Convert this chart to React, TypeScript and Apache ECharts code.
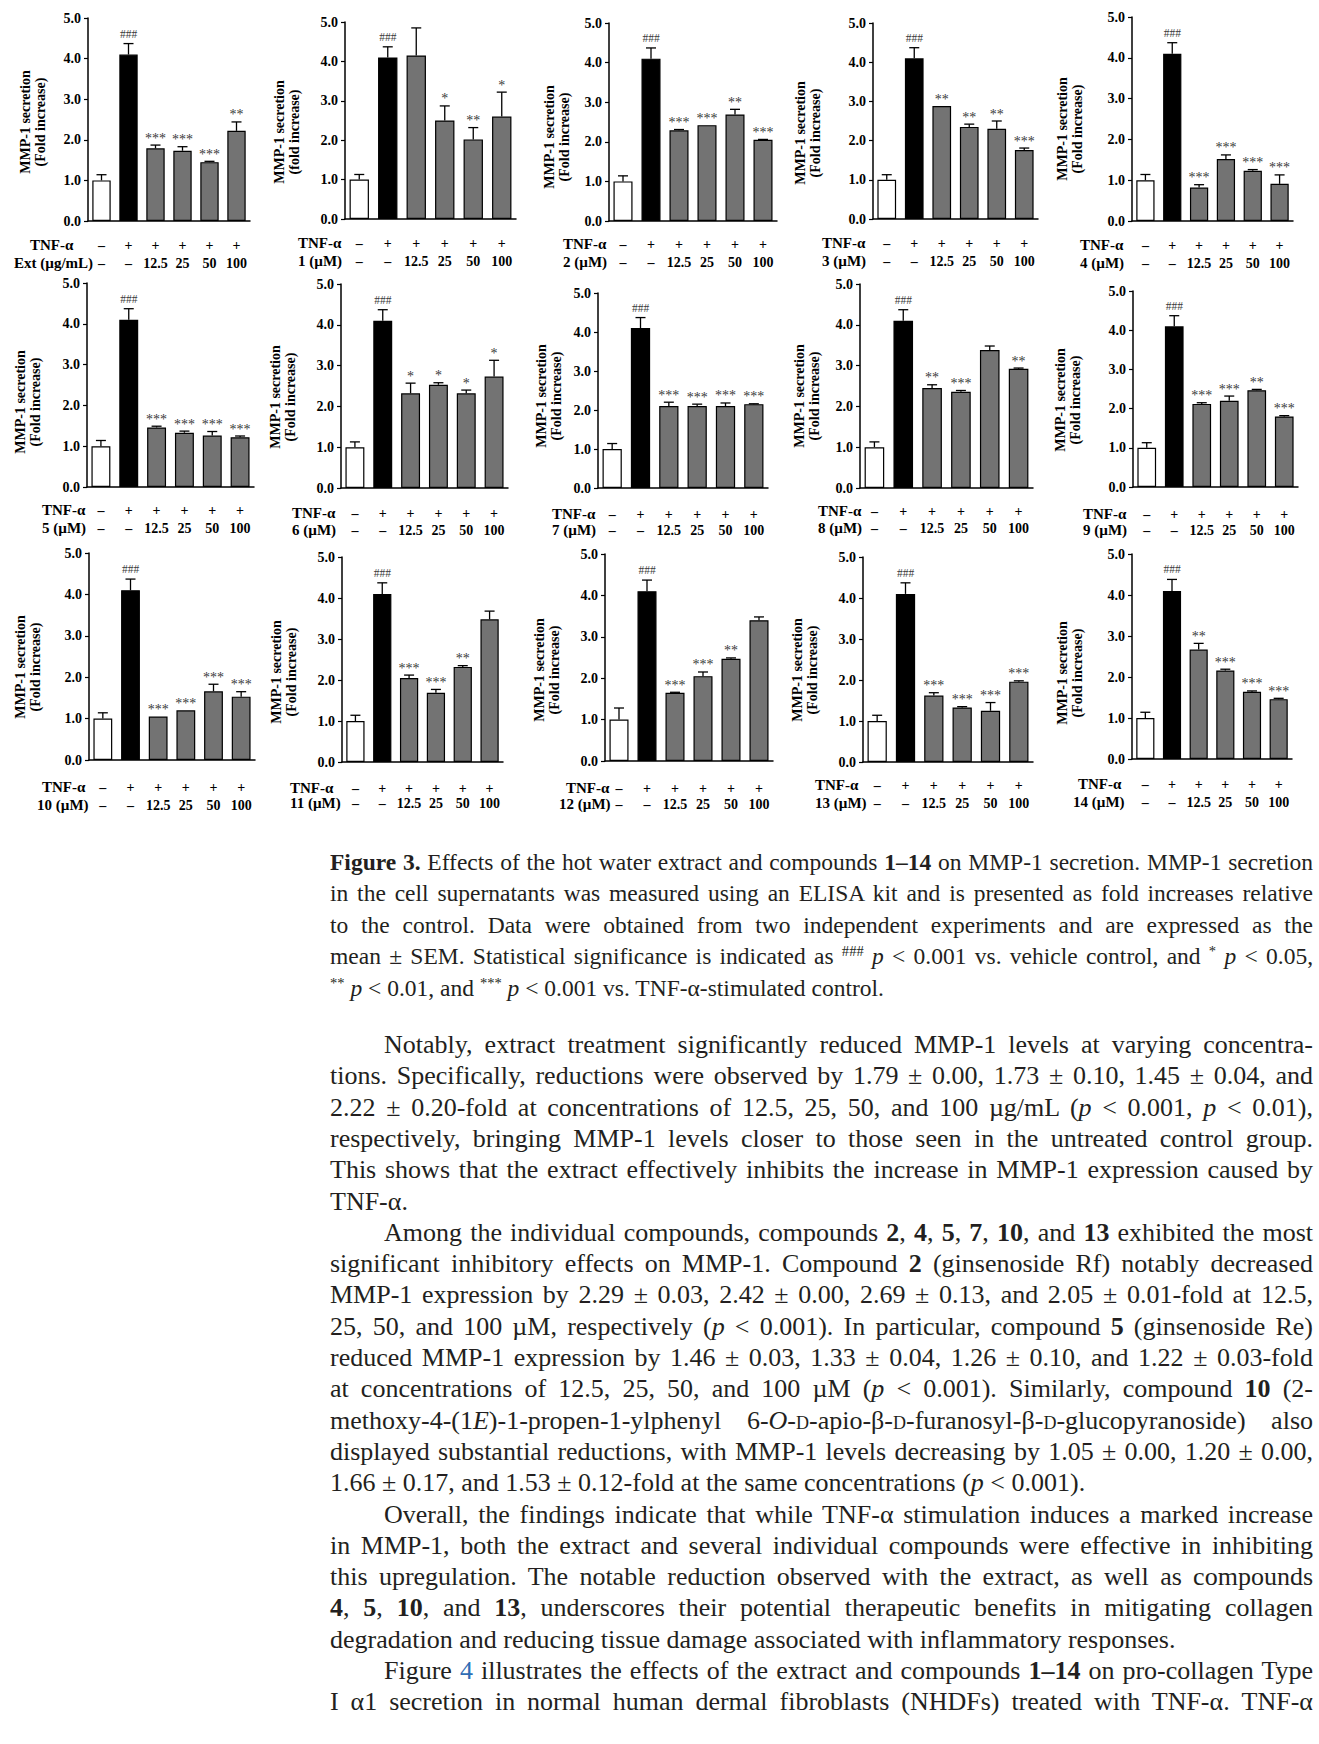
import React, { useEffect, useRef } from 'react';
import * as echarts from 'echarts';

// ---------- DATA ----------
const tnfRow = ['–', '+', '+', '+', '+', '+'];
const concRow = ['–', '–', '12.5', '25', '50', '100'];
const yTickValues = [0, 1, 2, 3, 4, 5];

const panelNames = [
  'Ext (µg/mL)', '1 (µM)', '2 (µM)', '3 (µM)', '4 (µM)',
  '5 (µM)', '6 (µM)', '7 (µM)', '8 (µM)', '9 (µM)',
  '10 (µM)', '11 (µM)', '12 (µM)', '13 (µM)', '14 (µM)',
];
const yTitleLine1 = 'MMP-1 secretion';
const yTitleLine2 = [
  '(Fold increase)', '(fold increase)', '(Fold increase)', '(Fold increase)', '(Fold increase)',
  '(Fold increase)', '(Fold increase)', '(Fold increase)', '(Fold increase)', '(Fold increase)',
  '(Fold increase)', '(Fold increase)', '(Fold increase)', '(Fold increase)', '(Fold increase)',
];

const meansExt = [1.0, 4.1, 1.79, 1.73, 1.45, 2.22];
const means1 = [1.0, 4.1, 4.15, 2.5, 2.02, 2.6];
const means2 = [1.0, 4.1, 2.29, 2.42, 2.69, 2.05];
const means3 = [1.0, 4.1, 2.88, 2.35, 2.3, 1.76];
const means4 = [1.0, 4.1, 0.82, 1.52, 1.23, 0.91];
const means5 = [1.0, 4.1, 1.46, 1.33, 1.26, 1.22];
const means6 = [1.0, 4.1, 2.32, 2.53, 2.32, 2.73];
const means7 = [1.0, 4.1, 2.1, 2.1, 2.1, 2.15];
const means8 = [1.0, 4.1, 2.45, 2.36, 3.38, 2.92];
const means9 = [1.0, 4.1, 2.12, 2.2, 2.47, 1.8];
const means10 = [1.0, 4.1, 1.05, 1.2, 1.66, 1.53];
const means11 = [1.0, 4.1, 2.05, 1.69, 2.32, 3.48];
const means12 = [1.0, 4.1, 1.65, 2.05, 2.47, 3.4];
const means13 = [1.0, 4.1, 1.62, 1.33, 1.25, 1.96];
const means14 = [1.0, 4.1, 2.67, 2.16, 1.64, 1.46];

const semsExt = [0.14, 0.27, 0.08, 0.1, 0.02, 0.22];
const sems1 = [0.13, 0.27, 0.7, 0.37, 0.3, 0.62];
const sems2 = [0.14, 0.27, 0.02, 0.0, 0.13, 0.01];
const sems3 = [0.13, 0.27, 0.0, 0.07, 0.2, 0.05];
const sems4 = [0.14, 0.27, 0.07, 0.1, 0.03, 0.22];
const sems5 = [0.14, 0.27, 0.03, 0.04, 0.1, 0.03];
const sems6 = [0.13, 0.27, 0.25, 0.05, 0.08, 0.4];
const sems7 = [0.14, 0.27, 0.1, 0.05, 0.08, 0.01];
const sems8 = [0.13, 0.27, 0.08, 0.03, 0.1, 0.02];
const sems9 = [0.13, 0.27, 0.03, 0.12, 0.02, 0.02];
const sems10 = [0.14, 0.27, 0.0, 0.0, 0.17, 0.12];
const sems11 = [0.14, 0.27, 0.07, 0.08, 0.03, 0.2];
const sems12 = [0.28, 0.27, 0.01, 0.1, 0.02, 0.08];
const sems13 = [0.14, 0.27, 0.07, 0.02, 0.2, 0.02];
const sems14 = [0.14, 0.28, 0.15, 0.03, 0.02, 0.02];

const marksExt = ['', '###', '***', '***', '***', '**'];
const marks1 = ['', '###', '', '*', '**', '*'];
const marks2 = ['', '###', '***', '***', '**', '***'];
const marks3 = ['', '###', '**', '**', '**', '***'];
const marks4 = ['', '###', '***', '***', '***', '***'];
const marks5 = ['', '###', '***', '***', '***', '***'];
const marks6 = ['', '###', '*', '*', '*', '*'];
const marks7 = ['', '###', '***', '***', '***', '***'];
const marks8 = ['', '###', '**', '***', '', '**'];
const marks9 = ['', '###', '***', '***', '**', '***'];
const marks10 = ['', '###', '***', '***', '***', '***'];
const marks11 = ['', '###', '***', '***', '**', ''];
const marks12 = ['', '###', '***', '***', '**', ''];
const marks13 = ['', '###', '***', '***', '***', '***'];
const marks14 = ['', '###', '**', '***', '***', '***'];

const allMeans = [meansExt, means1, means2, means3, means4, means5, means6, means7, means8, means9, means10, means11, means12, means13, means14];
const allSems = [semsExt, sems1, sems2, sems3, sems4, sems5, sems6, sems7, sems8, sems9, sems10, sems11, sems12, sems13, sems14];
const allMarks = [marksExt, marks1, marks2, marks3, marks4, marks5, marks6, marks7, marks8, marks9, marks10, marks11, marks12, marks13, marks14];

// ---------- LAYOUT ----------
// [axisX, top(5.0), right, bottom(0.0), tnfRowDy, concRowDy]
const gridLayout = [
  [88, 18, 250, 221, 24, 42],
  [345, 22, 516, 219, 24, 42],
  [609, 23, 777, 221, 23, 41],
  [873, 23, 1038, 219, 24, 42],
  [1132, 17, 1293, 221, 24, 42],
  [87, 283, 254, 487, 23, 41],
  [341, 284, 508, 488, 25, 42],
  [598, 293, 768, 488, 26, 42],
  [860, 284, 1033, 488, 23, 40],
  [1133, 291, 1298, 487, 27, 43],
  [89, 553, 255, 760, 27, 45],
  [342, 557, 503, 762, 26, 41],
  [605, 554, 773, 761, 27, 43],
  [863, 557, 1033, 762, 23, 41],
  [1132, 554, 1292, 759, 25, 43],
];
// [tnfLabelX, concLabelX]
const rowLabelX = [
  [30, 14], [298, 298], [563, 563], [822, 822], [1080, 1080],
  [42, 42], [292, 292], [552, 552], [818, 818], [1083, 1083],
  [42, 37], [290, 290], [566, 559], [815, 815], [1078, 1073],
];
// [cx, cy] of y-axis title
const yTitlePos = [
  [33, 122], [287, 132], [557, 137], [808, 133], [1070, 129],
  [28, 402], [283, 397], [549, 396], [807, 396], [1068, 400],
  [28, 667], [284, 672], [547, 670], [805, 670], [1070, 673],
];

const FONT = '"Liberation Serif", "Times New Roman", serif';
const barFill = ['#ffffff', '#000000', '#737373', '#737373', '#737373', '#737373'];

function buildOption() {
  const grid: any[] = [];
  const xAxis: any[] = [];
  const yAxis: any[] = [];
  const series: any[] = [];
  const graphic: any[] = [];

  for (let p = 0; p < 15; p++) {
    const [l, t, r, b, d1, d2] = gridLayout[p];
    const lh = d2 - d1;
    grid.push({ left: l, top: t, width: r - l, height: b - t, containLabel: false });
    xAxis.push({
      gridIndex: p,
      type: 'category',
      data: concRow.map((_, i) => String(i)),
      axisLine: { lineStyle: { color: '#000', width: 1.5 } },
      axisTick: { show: false },
      axisLabel: {
        interval: 0,
        margin: d1 - lh / 2,
        lineHeight: lh,
        fontSize: 14,
        fontWeight: 'bold',
        fontFamily: FONT,
        color: '#000',
        formatter: (_v: string, i: number) => tnfRow[i] + '\n' + concRow[i],
      },
    });
    yAxis.push({
      gridIndex: p,
      type: 'value',
      min: yTickValues[0],
      max: yTickValues[yTickValues.length - 1],
      interval: 1,
      axisLine: { show: true, lineStyle: { color: '#000', width: 1.5 } },
      axisTick: { show: true, length: 4, lineStyle: { color: '#000', width: 1.2 } },
      splitLine: { show: false },
      axisLabel: {
        margin: 7,
        fontSize: 14,
        fontWeight: 'bold',
        fontFamily: FONT,
        color: '#000',
        formatter: (v: number) => v.toFixed(1),
      },
    });
    series.push({
      type: 'bar',
      xAxisIndex: p,
      yAxisIndex: p,
      barWidth: '68%',
      data: allMeans[p].map((v, i) => ({
        value: v,
        itemStyle: { color: barFill[i], borderColor: '#000', borderWidth: 1.2 },
      })),
      z: 2,
    });
    const marks = allMarks[p];
    series.push({
      type: 'custom',
      xAxisIndex: p,
      yAxisIndex: p,
      clip: false,
      z: 3,
      encode: { x: 0, y: 1 },
      data: allMeans[p].map((v, i) => [i, v, allSems[p][i]]),
      renderItem: (params: any, api: any) => {
        const i = api.value(0);
        const v = api.value(1);
        const e = api.value(2);
        const base = api.coord([i, v]);
        const top = api.coord([i, v + e]);
        const children: any[] = [];
        if (e > 0.005) {
          children.push({
            type: 'line',
            shape: { x1: base[0], y1: base[1], x2: top[0], y2: top[1] },
            style: { stroke: '#000', lineWidth: 1.3 },
          });
          children.push({
            type: 'line',
            shape: { x1: top[0] - 5, y1: top[1], x2: top[0] + 5, y2: top[1] },
            style: { stroke: '#000', lineWidth: 1.3 },
          });
        }
        const m = marks[params.dataIndex];
        if (m) {
          children.push({
            type: 'text',
            x: top[0],
            y: top[1] - (m[0] === '#' ? 4 : 0),
            style: {
              text: m,
              align: 'center',
              verticalAlign: 'bottom',
              fontSize: m[0] === '#' ? 11.5 : 14,
              fontFamily: FONT,
              fill: '#3a3a3a',
            },
          });
        }
        return { type: 'group', children };
      },
    });

    // row labels
    graphic.push({
      type: 'text',
      x: rowLabelX[p][0],
      y: b + d1,
      style: { text: 'TNF-α', fontSize: 15, fontWeight: 'bold', fontFamily: FONT, fill: '#000', align: 'left', verticalAlign: 'middle' },
    });
    graphic.push({
      type: 'text',
      x: rowLabelX[p][1],
      y: b + d2,
      style: { text: panelNames[p], fontSize: 15, fontWeight: 'bold', fontFamily: FONT, fill: '#000', align: 'left', verticalAlign: 'middle' },
    });
    // y title
    graphic.push({
      type: 'text',
      x: yTitlePos[p][0],
      y: yTitlePos[p][1],
      rotation: Math.PI / 2,
      style: {
        text: yTitleLine1 + '\n' + yTitleLine2[p],
        fontSize: 14,
        fontWeight: 'bold',
        fontFamily: FONT,
        fill: '#000',
        align: 'center',
        verticalAlign: 'middle',
        lineHeight: 15,
      },
    });
  }

  return { animation: false, backgroundColor: '#fff', grid, xAxis, yAxis, series, graphic };
}

// ---------- TEXT ----------
const TEXT_LEFT = 330;
const TEXT_RIGHT = 1313;
const INDENT = 54;

type LineDef = { c: React.ReactNode; last?: boolean; indent?: boolean };

const sm = (s: string) => <span style={{ fontVariant: 'small-caps' }}>{s}</span>;
const P = () => <i>p</i>;
const supS = { fontSize: '0.62em', verticalAlign: '0.55em', lineHeight: 0 } as React.CSSProperties;

const captionLines: LineDef[] = [
  { c: <><b>Figure 3.</b> Effects of the hot water extract and compounds <b>1–14</b> on MMP-1 secretion. MMP-1 secretion</> },
  { c: <>in the cell supernatants was measured using an ELISA kit and is presented as fold increases relative</> },
  { c: <>to the control.  Data were obtained from two independent experiments and are expressed as the</> },
  { c: <>mean ± SEM. Statistical significance is indicated as <span style={supS}>###</span> <P /> &lt; 0.001 vs. vehicle control, and <span style={supS}>*</span> <P /> &lt; 0.05,</> },
  { c: <><span style={supS}>**</span> <P /> &lt; 0.01, and <span style={supS}>***</span> <P /> &lt; 0.001 vs. TNF-α-stimulated control.</>, last: true },
];
const captionY = [862, 893, 925, 956, 988];

const bodyLines: LineDef[] = [
  { c: <>Notably, extract treatment significantly reduced MMP-1 levels at varying concentra-</>, indent: true },
  { c: <>tions. Specifically, reductions were observed by 1.79 ± 0.00, 1.73 ± 0.10, 1.45 ± 0.04, and</> },
  { c: <>2.22 ± 0.20-fold at concentrations of 12.5, 25, 50, and 100 µg/mL (<P /> &lt; 0.001, <P /> &lt; 0.01),</> },
  { c: <>respectively, bringing MMP-1 levels closer to those seen in the untreated control group.</> },
  { c: <>This shows that the extract effectively inhibits the increase in MMP-1 expression caused by</> },
  { c: <>TNF-α.</>, last: true },
  { c: <>Among the individual compounds, compounds <b>2</b>, <b>4</b>, <b>5</b>, <b>7</b>, <b>10</b>, and <b>13</b> exhibited the most</>, indent: true },
  { c: <>significant inhibitory effects on MMP-1. Compound <b>2</b> (ginsenoside Rf) notably decreased</> },
  { c: <>MMP-1 expression by 2.29 ± 0.03, 2.42 ± 0.00, 2.69 ± 0.13, and 2.05 ± 0.01-fold at 12.5,</> },
  { c: <>25, 50, and 100 µM, respectively (<P /> &lt; 0.001). In particular, compound <b>5</b> (ginsenoside Re)</> },
  { c: <>reduced MMP-1 expression by 1.46 ± 0.03, 1.33 ± 0.04, 1.26 ± 0.10, and 1.22 ± 0.03-fold</> },
  { c: <>at concentrations of 12.5, 25, 50, and 100 µM (<P /> &lt; 0.001).  Similarly, compound <b>10</b> (2-</> },
  { c: <>methoxy-4-(1<i>E</i>)-1-propen-1-ylphenyl 6-<i>O</i>-{sm('d')}-apio-β-{sm('d')}-furanosyl-β-{sm('d')}-glucopyranoside) also</> },
  { c: <>displayed substantial reductions, with MMP-1 levels decreasing by 1.05 ± 0.00, 1.20 ± 0.00,</> },
  { c: <>1.66 ± 0.17, and 1.53 ± 0.12-fold at the same concentrations (<P /> &lt; 0.001).</>, last: true },
  { c: <>Overall, the findings indicate that while TNF-α stimulation induces a marked increase</>, indent: true },
  { c: <>in MMP-1, both the extract and several individual compounds were effective in inhibiting</> },
  { c: <>this upregulation. The notable reduction observed with the extract, as well as compounds</> },
  { c: <><b>4</b>, <b>5</b>, <b>10</b>, and <b>13</b>, underscores their potential therapeutic benefits in mitigating collagen</> },
  { c: <>degradation and reducing tissue damage associated with inflammatory responses.</>, last: true },
  { c: <>Figure <span style={{ color: '#2f6db5' }}>4</span> illustrates the effects of the extract and compounds <b>1–14</b> on pro-collagen Type</>, indent: true },
  { c: <>I α1 secretion in normal human dermal fibroblasts (NHDFs) treated with TNF-α. TNF-α</> },
];
const BODY_Y0 = 1045;
const BODY_STEP = 31.3;

function TextLine({ def, cy, size }: { def: LineDef; cy: number; size: number }) {
  const left = TEXT_LEFT + (def.indent ? INDENT : 0);
  return (
    <div
      style={{
        position: 'absolute',
        left,
        top: cy - 16,
        width: TEXT_RIGHT - left,
        height: 32,
        lineHeight: '32px',
        fontSize: size,
        whiteSpace: 'nowrap',
        textAlign: def.last ? 'left' : 'justify',
        textAlignLast: def.last ? 'left' : 'justify',
      } as React.CSSProperties}
    >
      {def.c}
    </div>
  );
}

export default function App() {
  const ref = useRef<HTMLDivElement>(null);
  useEffect(() => {
    if (!ref.current) return;
    const chart = echarts.init(ref.current, null, { renderer: 'svg' });
    chart.setOption(buildOption() as any);
    return () => chart.dispose();
  }, []);
  return (
    <div
      style={{
        position: 'absolute',
        left: 0,
        top: 0,
        width: 1319,
        height: 1744,
        background: '#fff',
        fontFamily: FONT,
        color: '#231f20',
        overflow: 'hidden',
      }}
    >
      <div ref={ref} style={{ position: 'absolute', left: 0, top: 0, width: 1319, height: 840 }} />
      {captionLines.map((d, i) => (
        <TextLine key={'c' + i} def={d} cy={captionY[i]} size={23.5} />
      ))}
      {bodyLines.map((d, i) => (
        <TextLine key={'b' + i} def={d} cy={BODY_Y0 + i * BODY_STEP} size={26} />
      ))}
    </div>
  );
}
